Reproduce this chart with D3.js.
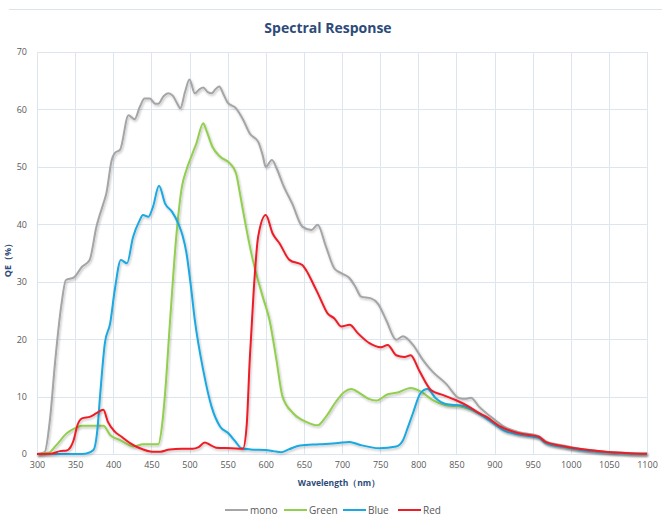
<!DOCTYPE html>
<html>
<head>
<meta charset="utf-8">
<script src="https://cdn.jsdelivr.net/npm/d3@7"></script>
<style>
  body { margin: 0; background: #fff; }
  svg { display: block; font-family: "Open Sans", sans-serif; }
  .grid line { stroke: #dde5ee; stroke-width: 1; }
  .tick-text { fill: #595959; font-size: 9px; }
</style>
</head>
<body>
<div id="chart"></div>
<script>
/* data: wavelength (nm) and QE (%) */
var monoWl = [300,310,317,324,332,338,348,359,369,378,387,391,398,402,409,420,428,435,441,448,455,459,466,472,478,484,488,494,500,507,513,518,524,529,534,539,545,550,561,570,579,590,596,600,608,615,622,635,648,660,668,679,690,699,710,718,725,738,747,758,771,780,793,806,819,836,854,862,869,880,897,912,932,958,967,989,1011,1045,1076,1100]
var monoQE = [0,0.3,6,16.4,26,30.3,30.7,32.6,33.8,39.6,43.6,45.4,51.2,52.4,53,59,58.3,60.5,61.9,61.9,61,61,62.3,62.8,62.4,61,60.2,63,65.2,62.8,63.5,63.8,63,62.8,63.5,64,62.5,61.2,60.2,58.3,55.8,54.4,52,50,51.2,49.5,47.1,43.5,39.6,39,39.9,36.1,32.3,31.5,30.6,29,27.4,27.1,26.2,23.3,19.9,20.5,19,16.4,14.3,12.3,9.7,9.6,9.8,8.2,6.3,4.8,3.8,3.1,2.2,1.5,0.9,0.4,0.15,0.05]

var greenWl = [300,315,325,339,350,359,375,387,396,409,420,426,439,452,459,464,468,474,483,490,496,503,509,518,522,530,540,553,561,566,570,583,596,605,614,622,636,653,668,679,692,703,712,723,735,745,760,773,790,803,819,836,858,880,897,912,932,958,967,989,1011,1045,1076,1100]
var greenQE = [0,0.2,1.5,3.6,4.5,4.9,4.9,4.9,3.3,2.4,1.6,1.3,1.7,1.7,1.7,5,10.6,22.2,38.4,46.5,49.5,52,54.1,57.6,56.4,53.5,51.8,50.6,48.9,45.5,42.5,33.8,27.4,23.3,16.4,10,7.1,5.6,5,6.5,9.1,10.8,11.3,10.6,9.6,9.3,10.4,10.7,11.5,10.9,9.4,8.5,8.2,7.1,5.6,4.2,3.5,2.9,2,1.3,0.8,0.35,0.1,0.05]

var blueWl = [300,355,365,374,379,383,389,396,402,410,418,426,434,439,446,452,460,468,477,485,491,496,502,507,518,529,540,551,560,568,580,600,610,620,630,645,670,695,710,723,749,771,780,786,793,803,812,823,836,858,880,897,912,932,958,967,989,1011,1045,1076,1100]
var blueQE = [0,0,0.1,0.7,4,10.6,19.3,22.8,28.6,33.8,33.2,37.8,40.5,41.6,41.3,43,46.7,43.6,42.2,40.2,38,35,29,23.3,14.6,8.2,4.8,3.6,2.2,1,0.8,0.7,0.5,0.3,0.8,1.5,1.7,1.9,2.1,1.6,1,1.3,2.4,4.5,7.1,10.6,11.3,9.7,8.7,8.4,7,5.5,4.1,3.4,2.8,1.9,1.25,0.75,0.3,0.1,0.05]

var redWl = [300,320,330,339,344,348,353,359,370,378,387,393,402,411,422,435,452,462,474,490,504,512,520,527,535,555,570,575,579,584,590,600,609,618,631,648,653,662,670,681,690,699,710,721,736,751,760,771,782,790,801,817,832,849,867,880,889,906,932,958,967,989,1011,1045,1076,1100]
var redQE = [0,0.1,0.5,0.6,1.2,2.4,5,6.2,6.5,7.1,7.7,5.6,3.9,3,1.9,1,0.4,0.4,0.8,0.9,0.9,1.2,2,1.6,1.1,1,0.9,5,16.4,28,37.8,41.6,38.4,36.7,33.8,32.9,32,29.7,27.5,24.5,23.6,22.2,22.5,21,19.3,18.6,19,17.2,16.9,17.2,14.6,11.1,10.3,9.4,8.2,7.1,6.5,4.9,3.6,3,2.1,1.4,0.9,0.4,0.15,0.05]

var seriesNames = ["mono","Green","Blue","Red"]
var seriesColors = ["#a5a5a5","#92cf50","#1aa9e1","#ee1c25"]
var xTicks = d3.range(300, 1101, 50)
var yTicks = d3.range(0, 71, 10)

var width = 662, height = 520
var margin = {top: 52, right: 15, bottom: 66, left: 37}
var plotW = width - margin.left - margin.right
var plotH = height - margin.top - margin.bottom

var svg = d3.select("#chart")
  .append("svg")
  .attr("width", width)
  .attr("height", height)

/* soft shadow like the spreadsheet lines */
var defs = svg.append("defs")
defs.append("filter")
  .attr("id", "shadow")
  .attr("x", "-5%").attr("y", "-5%")
  .attr("width", "110%").attr("height", "110%")
  .append("feDropShadow")
  .attr("dx", 1).attr("dy", 1.5)
  .attr("stdDeviation", 1)
  .attr("flood-color", "#000")
  .attr("flood-opacity", 0.25)

/* top frame line */
svg.append("line")
  .attr("x1", 9).attr("x2", width)
  .attr("y1", 9.5).attr("y2", 9.5)
  .style("stroke", "#dde3ea")

/* title */
svg.append("text")
  .attr("x", 328)
  .attr("y", 33)
  .attr("text-anchor", "middle")
  .style("font-size", "14px")
  .style("font-weight", "bold")
  .style("fill", "#2d4b78")
  .text("Spectral Response")

var g = svg.append("g")
  .attr("transform", "translate(" + margin.left + "," + margin.top + ")")

var xScale = d3.scaleLinear().domain([300, 1100]).range([0, plotW])
var yScale = d3.scaleLinear().domain([0, 70]).range([plotH, 0])

/* grid */
var grid = g.append("g").attr("class", "grid")
grid.selectAll(".gv").data(xTicks).enter()
  .append("line")
  .attr("x1", function(d) { return Math.round(xScale(d)) + 0.5 })
  .attr("x2", function(d) { return Math.round(xScale(d)) + 0.5 })
  .attr("y1", 0)
  .attr("y2", plotH)
grid.selectAll(".gh").data(yTicks).enter()
  .append("line")
  .attr("x1", 0)
  .attr("x2", plotW)
  .attr("y1", function(d) { return Math.round(yScale(d)) + 0.5 })
  .attr("y2", function(d) { return Math.round(yScale(d)) + 0.5 })

/* axes text */
var xAxis = d3.axisBottom(xScale).tickValues(xTicks).tickFormat(d3.format("d")).tickSize(0).tickPadding(8)
var xg = g.append("g").attr("transform", "translate(0," + plotH + ")").call(xAxis)
xg.select(".domain").remove()
xg.selectAll("text").attr("class", "tick-text").attr("fill", null)
xg.attr("font-size", null).attr("font-family", null)

var yAxis = d3.axisLeft(yScale).tickValues(yTicks).tickFormat(d3.format("d")).tickSize(0).tickPadding(10)
var yg = g.append("g").call(yAxis)
yg.select(".domain").remove()
yg.selectAll("text").attr("class", "tick-text").attr("fill", null)
yg.attr("font-size", null).attr("font-family", null)

/* axis titles */
svg.append("text")
  .attr("x", 339)
  .attr("y", 486)
  .attr("text-anchor", "middle")
  .style("font-size", "8.5px")
  .style("font-weight", "bold")
  .style("fill", "#2d4b78")
  .text("Wavelength（nm）")

svg.append("text")
  .attr("transform", "translate(11,258) rotate(-90)")
  .attr("text-anchor", "middle")
  .style("font-size", "9px")
  .style("font-weight", "bold")
  .style("fill", "#2d4b78")
  .text("QE（%）")

/* curves */
var lineFn = d3.line()
  .x(function(d) { return xScale(d[0]) })
  .y(function(d) { return yScale(d[1]) })
  .curve(d3.curveMonotoneX)

var seriesData = [
  d3.zip(monoWl, monoQE),
  d3.zip(greenWl, greenQE),
  d3.zip(blueWl, blueQE),
  d3.zip(redWl, redQE)
]

seriesData.forEach(function(data, i) {
  g.append("path")
    .attr("d", lineFn(data))
    .attr("fill", "none")
    .attr("stroke", seriesColors[i])
    .attr("stroke-width", 2)
    .attr("stroke-linejoin", "round")
    .attr("filter", "url(#shadow)")
})

/* legend */
var legendX = [225, 284, 343, 398]
var legend = svg.append("g").attr("transform", "translate(0,510)")
seriesNames.forEach(function(name, i) {
  legend.append("line")
    .attr("x1", legendX[i])
    .attr("x2", legendX[i] + 23)
    .attr("y1", 0)
    .attr("y2", 0)
    .attr("stroke", seriesColors[i])
    .attr("stroke-width", 2)
  legend.append("text")
    .attr("x", legendX[i] + 25)
    .attr("y", 3.5)
    .style("font-size", "10px")
    .style("fill", "#595959")
    .text(name)
})
</script>
</body>
</html>
